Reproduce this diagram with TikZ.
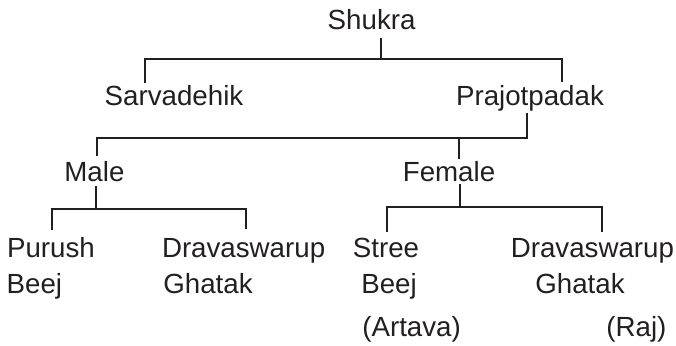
\documentclass[tikz,border=0pt]{standalone}
\usepackage{fontspec}
\setmainfont{Liberation Sans}
\definecolor{ink}{RGB}{35,31,32}
\begin{document}
\begin{tikzpicture}[font=\fontsize{19.7pt}{24pt}\selectfont,
    term/.style={anchor=base, inner sep=0pt, text=ink},
    link/.style={draw=ink, line width=1.42pt, line cap=butt, line join=miter}]
                \useasboundingbox (0,0) rectangle (16.9,-8.625);

                % --- LEVELS ---
                \node[term] (shukra) at (9.29,-0.725) {Shukra};
                \node[term] (sarv) at (4.35,-2.625) {Sarvadehik};
                \node[term] (prajo) at (13.25,-2.625) {Prajotpadak};
                \node[term] (male) at (2.36,-4.525) {Male};
                \node[term] (female) at (11.225,-4.525) {Female};

                % --- LEAVES (two / three lines) ---
                \node[term] (purush) at (1.275,-6.425) {Purush};
                \node[term] (beejm) at (0.86,-7.325) {Beej};
                \node[term] (dravm) at (6.09,-6.425) {Dravaswarup};
                \node[term] (ghatm) at (5.2,-7.325) {Ghatak};
                \node[term] (stree) at (9.65,-6.425) {Stree};
                \node[term] (beejf) at (9.725,-7.325) {Beej};
                \node[term] (artava) at (10.29,-8.4) {(Artava)};
                \node[term] (dravf) at (14.81,-6.425) {Dravaswarup};
                \node[term] (ghatf) at (14.5,-7.325) {Ghatak};
                \node[term] (raj) at (15.91,-8.4) {(Raj)};

                % --- BRACKETS ---
                % Shukra
                \coordinate (sh-a) at (9.525,-0.95);
                \coordinate (sh-bar) at (9.525,-1.475);
                \coordinate (sh-l) at (3.625,-2.075);
                \coordinate (sh-r) at (14.05,-2.05);
                \draw[link] (sh-a) -- (sh-bar);
                \draw[link] (sh-l) |- (sh-bar) -| (sh-r);

                % Prajotpadak
                \coordinate (pr-a) at (13.175,-2.825);
                \coordinate (pr-bar) at (13.175,-3.45);
                \coordinate (pr-l) at (2.425,-3.9);
                \coordinate (pr-m) at (11.475,-3.975);
                \draw[link] (pr-l) |- (pr-bar) -- (pr-a);
                \draw[link] (pr-m |- pr-bar) -- (pr-m);

                % Male
                \coordinate (ma-a) at (2.4,-4.65);
                \coordinate (ma-bar) at (2.4,-5.225);
                \coordinate (ma-l) at (1.3,-5.75);
                \coordinate (ma-r) at (6.15,-5.725);
                \draw[link] (ma-a) -- (ma-bar);
                \draw[link] (ma-l) |- (ma-bar) -| (ma-r);

                % Female
                \coordinate (fe-a) at (11.5,-4.6);
                \coordinate (fe-bar) at (11.5,-5.175);
                \coordinate (fe-l) at (9.675,-5.8);
                \coordinate (fe-r) at (15.05,-5.8);
                \draw[link] (fe-a) -- (fe-bar);
                \draw[link] (fe-l) |- (fe-bar) -| (fe-r);
            \end{tikzpicture}
\end{document}
